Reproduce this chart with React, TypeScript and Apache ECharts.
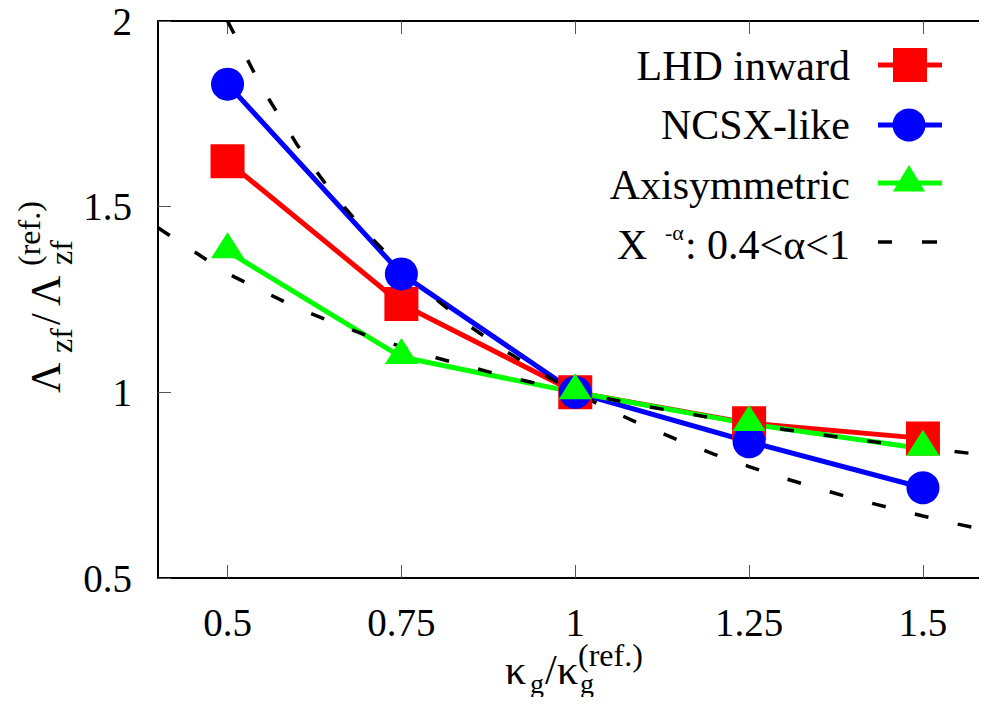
import React, { useEffect, useRef } from "react";
import * as echarts from "echarts";

// ---------- data ----------
const xValues = [0.5, 0.75, 1, 1.25, 1.5];
const lhdInward = [1.622, 1.238, 1.0, 0.917, 0.876];
const ncsxLike = [1.83, 1.319, 1.0, 0.867, 0.743];
const axisymmetric = [1.38, 1.095, 1.0, 0.915, 0.848];

// reference power laws X^-alpha (alpha = 1 and alpha = 0.4), sampled points
const alpha1X = [0.5, 0.55, 0.6, 0.65, 0.7, 0.75, 0.8, 0.85, 0.9, 0.95, 1.0, 1.05, 1.1, 1.15, 1.2, 1.25, 1.3, 1.35, 1.4, 1.45, 1.5, 1.55, 1.6];
const alpha1Y = [2.0, 1.818, 1.667, 1.538, 1.429, 1.333, 1.25, 1.176, 1.111, 1.053, 1.0, 0.952, 0.909, 0.87, 0.833, 0.8, 0.769, 0.741, 0.714, 0.69, 0.667, 0.645, 0.625];
const alpha04X = [0.4, 0.5, 0.6, 0.7, 0.8, 0.9, 1.0, 1.1, 1.2, 1.3, 1.4, 1.5, 1.6];
const alpha04Y = [1.443, 1.32, 1.227, 1.153, 1.093, 1.043, 1.0, 0.963, 0.93, 0.9, 0.874, 0.85, 0.829];

const xTicks = [0.5, 0.75, 1, 1.25, 1.5];
const seriesNames = ["LHD inward", "NCSX-like", "Axisymmetric"];
const seriesColors = ["#ff0000", "#0000ff", "#00ff00"];

const FONT = "serif";

function txt(text: string, x: number, baseline: number, fs: number, align: string = "left", lh?: number) {
  const style: any = {
    text,
    fontSize: fs,
    fontFamily: FONT,
    fill: "#000",
    align,
    verticalAlign: "middle",
  };
  if (lh) style.lineHeight = lh;
  return {
    type: "text",
    x,
    y: baseline - 0.3375 * fs,
    silent: true,
    style,
  };
}

function pairs(xs: number[], ys: number[]) {
  return xs.map((x, i) => [x, ys[i]]);
}

export default function App() {
  const ref = useRef<HTMLDivElement>(null);

  useEffect(() => {
    if (!ref.current) return;
    const chart = echarts.init(ref.current, null, { renderer: "svg" });

    const axisLine = { show: true, onZero: false, lineStyle: { color: "#000", width: 2 } };
    const tick = { show: true, inside: true, length: 13, lineStyle: { color: "#555", width: 1 } };
    const labelStyle = { fontSize: 39, fontFamily: FONT, color: "#000" };

    // legend graphics
    const legendRows = [
      { cy: 65, base: 80 },
      { cy: 125, base: 139.5 },
      { cy: 183, base: 199 },
    ];
    const legend: any[] = [];
    legendRows.forEach((r, i) => {
      legend.push(txt(seriesNames[i], 850, r.base, 42, "right"));
      legend.push({ type: "line", silent: true, shape: { x1: 878, y1: r.cy, x2: 942, y2: r.cy }, style: { stroke: seriesColors[i], lineWidth: 5 } });
    });
    legend.push({ type: "rect", silent: true, shape: { x: 893, y: 48, width: 34, height: 34 }, style: { fill: seriesColors[0] } });
    legend.push({ type: "circle", silent: true, shape: { cx: 909, cy: 125, r: 16.5 }, style: { fill: seriesColors[1] } });
    legend.push({ type: "polygon", silent: true, shape: { points: [[909, 165], [893, 191.5], [925, 191.5]] }, style: { fill: seriesColors[2] } });
    legend.push(txt("X", 617, 259, 42));
    legend.push(txt("-α", 665, 240, 22, "left", 16));
    legend.push(txt(": 0.4<α<1", 850, 259, 42, "right"));
    legend.push({ type: "line", silent: true, shape: { x1: 878, y1: 242, x2: 892, y2: 242 }, style: { stroke: "#000", lineWidth: 3.5 } });
    legend.push({ type: "line", silent: true, shape: { x1: 922, y1: 242, x2: 937, y2: 242 }, style: { stroke: "#000", lineWidth: 3.5 } });

    // axis titles
    const xTitle = [
      txt("κ", 505, 684, 42),
      txt("g", 530, 693, 28, "left", 20),
      txt("/", 545, 684, 42),
      txt("κ", 557, 684, 42),
      txt("g", 580, 693, 28, "left", 20),
      txt("(ref.)", 578, 666, 32, "left", 22),
    ];
    const yTitle = {
      type: "group",
      x: 60,
      y: 393,
      rotation: Math.PI / 2,
      silent: true,
      children: [
        txt("Λ", 0, 0, 42),
        txt("zf", 40, 12, 32, "left", 24),
        txt("/", 68, 0, 42),
        txt("Λ", 87, 0, 42),
        txt("zf", 128, 12, 32, "left", 24),
        txt("(ref.)", 127, -20, 32, "left", 24),
      ],
    };

    const option: any = {
      animation: false,
      backgroundColor: "#fff",
      textStyle: { fontFamily: FONT },
      grid: { left: 158, top: 21, right: 7.5, bottom: 127, containLabel: false },
      xAxis: [
        {
          type: "value",
          min: 0.4,
          max: 1.6,
          position: "bottom",
          axisLine,
          axisTick: { ...tick, customValues: xTicks },
          axisLabel: { ...labelStyle, margin: 25, customValues: xTicks },
          splitLine: { show: false },
        },
        {
          type: "value",
          min: 0.4,
          max: 1.6,
          position: "top",
          axisLine,
          axisTick: { ...tick, customValues: xTicks },
          axisLabel: { show: false },
          splitLine: { show: false },
        },
      ],
      yAxis: [
        {
          type: "value",
          min: 0.5,
          max: 2,
          interval: 0.5,
          position: "left",
          axisLine,
          axisTick: tick,
          axisLabel: { ...labelStyle, margin: 26 },
          splitLine: { show: false },
        },
        {
          type: "value",
          min: 0.5,
          max: 2,
          interval: 0.5,
          position: "right",
          axisLine,
          axisTick: tick,
          axisLabel: { show: false },
          splitLine: { show: false },
        },
      ],
      series: [
        {
          name: seriesNames[0],
          type: "line",
          data: pairs(xValues, lhdInward),
          symbol: "rect",
          symbolSize: 34,
          lineStyle: { color: seriesColors[0], width: 5 },
          itemStyle: { color: seriesColors[0] },
        },
        {
          name: seriesNames[1],
          type: "line",
          data: pairs(xValues, ncsxLike),
          symbol: "circle",
          symbolSize: 33,
          lineStyle: { color: seriesColors[1], width: 5 },
          itemStyle: { color: seriesColors[1] },
        },
        {
          name: seriesNames[2],
          type: "line",
          data: pairs(xValues, axisymmetric),
          symbol: "triangle",
          symbolSize: [33, 26],
          symbolOffset: [0, -6],
          lineStyle: { color: seriesColors[2], width: 5 },
          itemStyle: { color: seriesColors[2] },
        },
        {
          name: "alpha1",
          type: "line",
          data: pairs(alpha1X, alpha1Y),
          showSymbol: false,
          symbol: "none",
          lineStyle: { color: "#000", width: 3.5, type: [14, 30] },
        },
        {
          name: "alpha04",
          type: "line",
          data: pairs(alpha04X, alpha04Y),
          showSymbol: false,
          symbol: "none",
          lineStyle: { color: "#000", width: 3.5, type: [14, 30] },
        },
      ],
      graphic: [...legend, ...xTitle, yTitle],
    };

    chart.setOption(option);
    return () => chart.dispose();
  }, []);

  return (
    <div style={{ margin: -8, width: 987, height: 705, overflow: "hidden", background: "#fff" }}>
      <div ref={ref} style={{ width: 1000, height: 705 }} />
    </div>
  );
}
